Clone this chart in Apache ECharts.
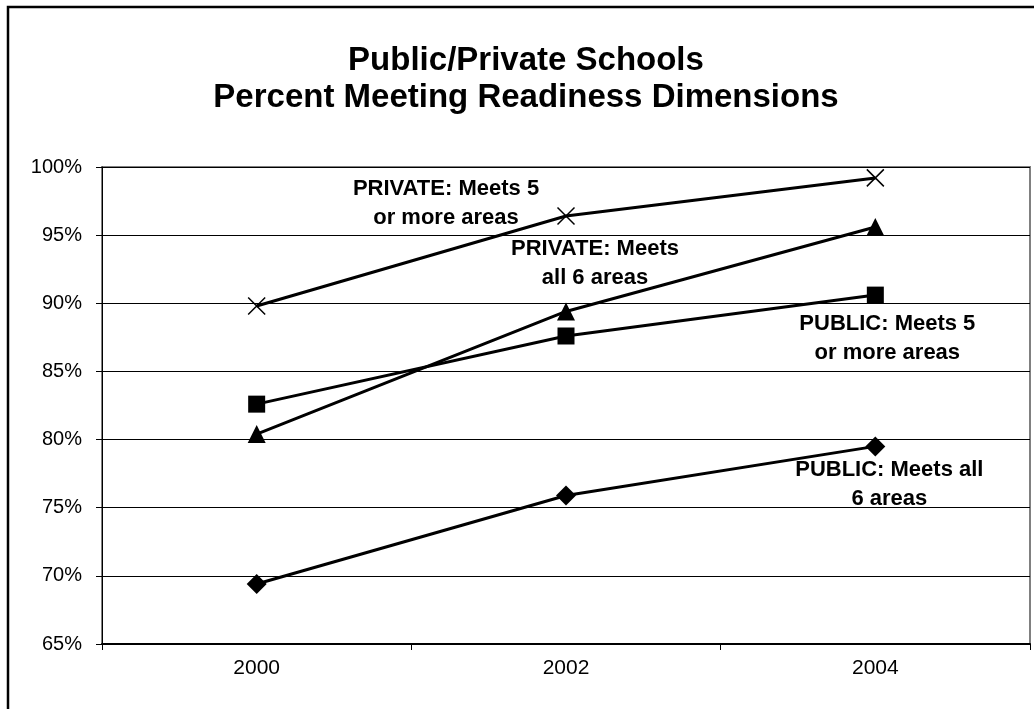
<!DOCTYPE html>
<html>
<head>
<meta charset="utf-8">
<script src="https://cdn.jsdelivr.net/npm/echarts@6/dist/echarts.min.js"></script>
<style>
html,body{margin:0;padding:0;background:#fff;}
#c{width:1034px;height:709px;}
</style>
</head>
<body>
<div id="c"></div>
<script>
// ---- data ----
var years = ['2000', '2002', '2004'];
var private5 = [89.8, 96.4, 99.2];
var private6 = [80.4, 89.4, 95.6];
var public5 = [82.6, 87.6, 90.6];
var public6 = [69.4, 75.9, 79.5];
var yTicks = [65, 70, 75, 80, 85, 90, 95, 100];
var titleLines = ['Public/Private Schools', 'Percent Meeting Readiness Dimensions'];
var seriesNames = ['PRIVATE: Meets 5\nor more areas', 'PRIVATE: Meets\nall 6 areas', 'PUBLIC: Meets 5\nor more areas', 'PUBLIC: Meets all\n6 areas'];

var FONT = '"Liberation Sans", Arial, sans-serif';
var chart = echarts.init(document.getElementById('c'), null, {renderer: 'canvas'});

function withLabel(values, idx, text, offset) {
  return values.map(function (v, i) {
    if (i !== idx) return v;
    return {
      value: v,
      label: {
        show: true, position: 'inside', offset: offset,
        formatter: text, color: '#000', fontFamily: FONT, fontWeight: 'bold',
        fontSize: 22, lineHeight: 29, align: 'center', verticalAlign: 'middle'
      }
    };
  });
}

var lineStyle = {color: '#000', width: 3};
var crossPath = 'path://M0,0L10,10M10,0L0,10';

var option = {
  backgroundColor: '#fff',
  animation: false,
  graphic: [
    {type: 'rect', shape: {x: 8, y: 7, width: 1100, height: 800}, style: {fill: 'none', stroke: '#000', lineWidth: 2.5}, z: -1},
    {type: 'text', x: 526, y: 42, style: {text: titleLines.join('\n'), font: 'bold 33px ' + FONT, fill: '#000', textAlign: 'center', textVerticalAlign: 'top', lineHeight: 37}, z: 10}
  ],
  grid: {left: 102, top: 167, width: 928, height: 477, show: true, borderColor: '#808080', borderWidth: 2, backgroundColor: 'transparent'},
  xAxis: {
    type: 'category', data: years, boundaryGap: true,
    axisLine: {lineStyle: {color: '#000', width: 2}},
    axisTick: {show: true, length: 6, lineStyle: {color: '#000', width: 1}},
    axisLabel: {color: '#000', fontFamily: FONT, fontSize: 21, margin: 14},
    splitLine: {show: false}
  },
  yAxis: {
    type: 'value', min: yTicks[0], max: yTicks[yTicks.length - 1], interval: 5,
    axisLine: {show: true, lineStyle: {color: '#000', width: 1}},
    axisTick: {show: true, length: 6, inside: false, lineStyle: {color: '#000', width: 1}},
    axisLabel: {color: '#000', fontFamily: FONT, fontSize: 20, margin: 20, formatter: '{value}%'},
    splitLine: {show: true, lineStyle: {color: '#000', width: 1}}
  },
  series: [
    {
      type: 'line', name: seriesNames[0],
      data: withLabel(private5, 1, seriesNames[0], [-120, -13]),
      symbol: crossPath, symbolSize: 17,
      itemStyle: {color: 'rgba(0,0,0,0)', borderColor: '#000', borderWidth: 1.5},
      lineStyle: lineStyle, z: 3
    },
    {
      type: 'line', name: seriesNames[1],
      data: withLabel(private6, 1, seriesNames[1], [29, -48]),
      symbol: 'triangle', symbolSize: 18,
      itemStyle: {color: '#000'}, lineStyle: lineStyle, z: 3
    },
    {
      type: 'line', name: seriesNames[2],
      data: withLabel(public5, 2, seriesNames[2], [12, 43]),
      symbol: 'rect', symbolSize: 17,
      itemStyle: {color: '#000'}, lineStyle: lineStyle, z: 3
    },
    {
      type: 'line', name: seriesNames[3],
      data: withLabel(public6, 2, seriesNames[3], [14, 38]),
      symbol: 'diamond', symbolSize: [20, 20],
      itemStyle: {color: '#000'}, lineStyle: lineStyle, z: 3
    }
  ]
};
chart.setOption(option);
</script>
</body>
</html>
